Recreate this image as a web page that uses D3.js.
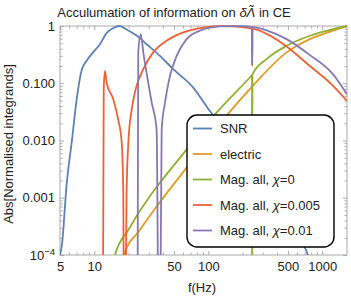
<!DOCTYPE html>
<html>
<head>
<meta charset="utf-8">
<script src="https://d3js.org/d3.v7.min.js"></script>
<style>
body { margin: 0; background: #fff; }
svg { font-family: "Liberation Sans", Arial, sans-serif; }
.tick text { font-size: 13px; fill: #222; }
.frame line { stroke: #aaa; }
</style>
</head>
<body>
<svg width="351" height="299"></svg>
<script>
// curves, as [f(Hz), |normalised integrand|]
var snr = [[5,1e-4],[5.2,1.5e-4],[5.7,0.0016],[6.4,0.011],[7.0,0.052],[7.75,0.17],[8.6,0.25],[9.8,0.35],[11.2,0.48],
  [12.8,0.75],[14.7,0.92],[16.6,1],[19.2,0.87],[23.5,0.68],[28.8,0.48],[37.7,0.30],[49.3,0.176],[73.8,0.084],
  [103,0.033],[180,0.0085],[284,0.0023],[500,0.00038],[750,1e-4],[900,3e-5]];
var electric = [[17,3e-5],[18.2,1e-4],[25.2,0.000275],[35.2,0.0007],[64.6,0.00336],[155,0.032],[246,0.09],
  [487,0.346],[780,0.59],[1241,0.83],[1650,1]];
var magChi0 = [[14,3e-5],[15.2,1e-4],[19.9,0.000275],[64.6,0.007],[114.6,0.0286],[232,0.126],[242,0.138],
  [243,1e-7],[244,0.142],[325,0.264],[487,0.451],[780,0.676],[1241,0.886],[1650,1]];
var magChi005 = [[11.8,1e-7],[12.1,0.08],[12.4,0.165],[12.85,0.1],[14.7,0.052],[16.2,0.0234],[17.4,0.0092],
  [17.95,0.00123],[18.4,1e-7],[19.2,0.00123],[19.9,0.0092],[21.3,0.035],[22.7,0.0687],[23.5,0.09],[26.9,0.176],
  [32.9,0.346],[43.1,0.552],[60.4,0.775],[90.3,0.94],[130,0.995],[165,0.99],[205,0.95],[242,0.9],[243,0.2],
  [244,0.89],[325,0.73],[487,0.44],[780,0.2],[1247,0.09],[1650,0.049]];
var magChi01 = [[23.8,1e-7],[24.3,0.35],[25.6,0.72],[26.9,0.346],[29.2,0.126],[31.9,0.0458],[35.2,0.0156],
  [37.2,1e-7],[39.0,0.0156],[41.7,0.0458],[46.1,0.134],[52.8,0.30],[64.6,0.59],[84.5,0.83],[103.5,0.94],
  [150,0.995],[200,0.99],[242,0.96],[243,0.22],[244,0.955],[325,0.84],[487,0.59],[780,0.31],[1241,0.144],
  [1650,0.064]];

var seriesNames = ["SNR", "electric", "Mag. all, \u03c7=0", "Mag. all, \u03c7=0.005", "Mag. all, \u03c7=0.01"];
var colors = ["#5e81b5", "#e19c24", "#8fb032", "#eb6235", "#8778b3"];
var allSeries = [snr, electric, magChi0, magChi005, magChi01];

var xMajor = [5, 10, 50, 100, 500, 1000];
var xMinor = [6,7,8,9,20,30,40,60,70,80,90,200,300,400,600,700,800,900];
var yMajor = [1e-4, 1e-3, 1e-2, 1e-1, 1];
var yLabels = ["", "0.001", "0.010", "0.100", "1"];

var svg = d3.select("svg");
var L = 60, R = 347, T = 26, B = 255;

var x = d3.scaleLog().domain([5, 1650]).range([L, R]);
var y = d3.scaleLog().domain([1e-4, 1]).range([B, T]);

var yMinor = [];
yMajor.slice(0, 4).forEach(function(d) { for (var k = 2; k < 10; k++) yMinor.push(d * k); });

svg.append("defs").append("clipPath").attr("id", "clip")
  .append("rect").attr("x", L).attr("y", T - 2).attr("width", R - L).attr("height", B - T + 2);

// frame with ticks on all sides
function frameAxis(axis, tx, ty) {
  var g = svg.append("g").attr("class", "frame")
    .attr("transform", "translate(" + tx + "," + ty + ")").call(axis);
  g.select(".domain").remove();
  return g;
}
frameAxis(d3.axisBottom(x).tickValues(xMajor).tickFormat(d3.format("d")).tickSize(-4).tickPadding(7), 0, B);
frameAxis(d3.axisBottom(x).tickValues(xMinor).tickFormat("").tickSize(-2.5), 0, B);
frameAxis(d3.axisTop(x).tickValues(xMajor).tickFormat("").tickSize(-4), 0, T);
frameAxis(d3.axisTop(x).tickValues(xMinor).tickFormat("").tickSize(-2.5), 0, T);
var ly = frameAxis(d3.axisLeft(y).tickValues(yMajor).tickFormat(function(d, i) { return yLabels[i]; })
  .tickSize(-4).tickPadding(5), L, 0);
frameAxis(d3.axisLeft(y).tickValues(yMinor).tickFormat("").tickSize(-2.5), L, 0);
frameAxis(d3.axisRight(y).tickValues(yMajor).tickFormat("").tickSize(-4), R, 0);
frameAxis(d3.axisRight(y).tickValues(yMinor).tickFormat("").tickSize(-2.5), R, 0);

ly.selectAll(".tick text").filter(function(d) { return d === 1e-4; })
  .each(function() {
    var t = d3.select(this);
    t.append("tspan").text("10");
    t.append("tspan").attr("dy", "-0.45em").attr("font-size", "9.5px").text("\u22124");
  });

svg.append("rect").attr("x", L).attr("y", T).attr("width", R - L).attr("height", B - T)
  .attr("fill", "none").attr("stroke", "#aaa").attr("stroke-width", 1);

var line = d3.line()
  .x(function(d) { return x(d[0]); })
  .y(function(d) { return y(Math.max(d[1], 1e-7)); })
  .curve(d3.curveMonotoneX);

svg.append("g").attr("clip-path", "url(#clip)")
  .selectAll("path").data(allSeries).join("path")
  .attr("d", line)
  .attr("fill", "none")
  .attr("stroke", function(d, i) { return colors[i]; })
  .attr("stroke-width", 1.8)
  .attr("stroke-linejoin", "round");

// title and axis labels
var title = svg.append("text").attr("x", 174).attr("y", 17).attr("text-anchor", "middle")
  .attr("font-size", "13px").attr("fill", "#222");
title.append("tspan").text("Acculumation of information on ");
title.append("tspan").attr("font-style", "italic").text("\u03b4\u039b\u0303");
title.append("tspan").text(" in CE");

svg.append("text").attr("x", 202).attr("y", 292).attr("text-anchor", "middle")
  .attr("font-size", "13px").attr("fill", "#222").text("f(Hz)");

svg.append("text").attr("transform", "translate(13,144) rotate(-90)").attr("text-anchor", "middle")
  .attr("font-size", "13px").attr("fill", "#222").text("Abs[Normalised integrands]");

// legend
var lg = svg.append("g").attr("transform", "translate(187,115)");
lg.append("rect").attr("width", 147).attr("height", 132).attr("rx", 10).attr("ry", 10)
  .attr("fill", "#fff").attr("stroke", "#000").attr("stroke-width", 1.4);
var items = lg.selectAll("g.item").data(seriesNames).join("g").attr("class", "item")
  .attr("transform", function(d, i) { return "translate(0," + (13.5 + i * 25.5) + ")"; });
items.append("line").attr("x1", 6).attr("x2", 25).attr("y1", 0).attr("y2", 0)
  .attr("stroke", function(d, i) { return colors[i]; }).attr("stroke-width", 1.8);
items.append("text").attr("x", 33).attr("y", 4.5).attr("font-size", "13px").attr("fill", "#222")
  .each(function(d) {
    var t = d3.select(this);
    var k = d.indexOf("\u03c7");
    if (k < 0) { t.text(d); return; }
    t.append("tspan").text(d.slice(0, k));
    t.append("tspan").attr("font-style", "italic").text("\u03c7");
    t.append("tspan").text(d.slice(k + 1));
  });
</script>
</body>
</html>
